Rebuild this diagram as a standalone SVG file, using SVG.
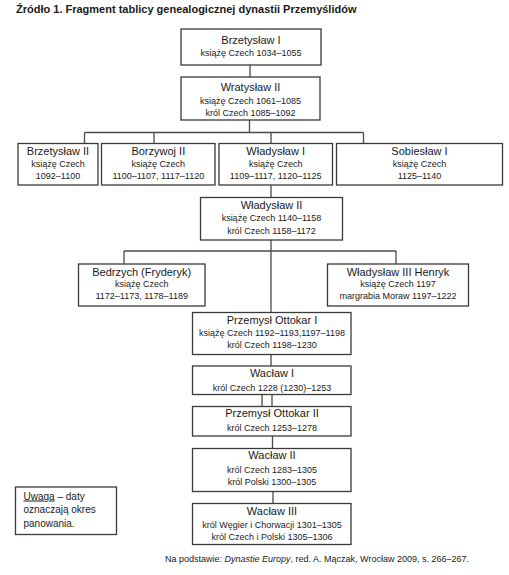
<svg xmlns="http://www.w3.org/2000/svg" width="509" height="575" viewBox="0 0 509 575">
<style>
text{font-family:"Liberation Sans",Arial,sans-serif;fill:#1a1a1a;}
.t{font-size:11px;font-weight:bold;}
.n{font-size:11px;text-anchor:middle;}
.s{font-size:9px;text-anchor:middle;}
.b{fill:#fff;stroke:#3a3a3a;stroke-width:1.3;}
.c{fill:none;stroke:#4a4a4a;stroke-width:1.3;}
.u{font-size:10px;}
.f{font-size:9px;}
</style>
<rect width="509" height="575" fill="#fff"/>
<text class="t" x="16" y="13">Źródło 1. Fragment tablicy genealogicznej dynastii Przemyślidów</text>
<g id="connectors">
<path class="c" d="M250,65V77"/>
<path class="c" d="M249.5,120V132.5M84.5,132.5H363.5M84.5,132.5V143.5M154,132.5V143.5M271,132.5V143.5M363.5,132.5V143.5"/>
<path class="c" d="M271,185V197.5"/>
<path class="c" d="M271,240V312.5M124,251H396M124,251V264M396,251V264"/>
<path class="c" d="M271,354.5V366"/>
<path class="c" d="M262,394.5V406.5M272,394.5V406.5"/>
<path class="c" d="M272.5,436V448.5"/>
<path class="c" d="M273,491.5V503.5"/>
</g>
<g id="n1"><rect class="b" x="181" y="29" width="140" height="36"/><text class="n" x="251" y="43.5">Brzetysław I</text><text class="s" x="251" y="56">książę Czech 1034–1055</text></g>
<g id="n2"><rect class="b" x="181" y="77" width="139" height="43"/><text class="n" x="250.5" y="90.5">Wratysław II</text><text class="s" x="250.5" y="104">książę Czech 1061–1085</text><text class="s" x="250.5" y="115.5">król Czech 1085–1092</text></g>
<g id="n3"><rect class="b" x="18" y="143.5" width="80" height="41.5"/><text class="n" x="58" y="155">Brzetysław II</text><text class="s" x="58" y="167">książę Czech</text><text class="s" x="58" y="179">1092–1100</text></g>
<g id="n4"><rect class="b" x="101.5" y="143.5" width="113.5" height="41.5"/><text class="n" x="158.3" y="155">Borzywoj II</text><text class="s" x="158.3" y="167">książę Czech</text><text class="s" x="158.3" y="179">1100–1107, 1117–1120</text></g>
<g id="n5"><rect class="b" x="219" y="143.5" width="113.5" height="41.5"/><text class="n" x="275.7" y="155">Władysław I</text><text class="s" x="275.7" y="167">książę Czech</text><text class="s" x="275.7" y="179">1109–1117, 1120–1125</text></g>
<g id="n6"><rect class="b" x="336.5" y="143.5" width="166" height="41.5"/><text class="n" x="419.5" y="155">Sobiesław I</text><text class="s" x="419.5" y="167">książę Czech</text><text class="s" x="419.5" y="179">1125–1140</text></g>
<g id="n7"><rect class="b" x="200.5" y="197.5" width="142" height="42.5"/><text class="n" x="271.5" y="208.5">Władysław II</text><text class="s" x="271.5" y="221">książę Czech 1140–1158</text><text class="s" x="271.5" y="233.5">król Czech 1158–1172</text></g>
<g id="n8"><rect class="b" x="78.5" y="264" width="126.5" height="42"/><text class="n" x="141.7" y="275.5">Bedrzych (Fryderyk)</text><text class="s" x="141.7" y="287">książę Czech</text><text class="s" x="141.7" y="298.5">1172–1173, 1178–1189</text></g>
<g id="n9"><rect class="b" x="327.5" y="264" width="141" height="42"/><text class="n" x="398" y="275.5">Władysław III Henryk</text><text class="s" x="398" y="287">książę Czech 1197</text><text class="s" x="398" y="298.5">margrabia Moraw 1197–1222</text></g>
<g id="n10"><rect class="b" x="192.5" y="312.5" width="158.5" height="42"/><text class="n" x="272" y="323.5">Przemysł Ottokar I</text><text class="s" x="272" y="336">książę Czech 1192–1193,1197–1198</text><text class="s" x="272" y="347.5">król Czech 1198–1230</text></g>
<g id="n11"><rect class="b" x="192.5" y="366" width="158.5" height="28.5"/><text class="n" x="272" y="377">Wacław I</text><text class="s" x="272" y="390.5">król Czech 1228 (1230)–1253</text></g>
<g id="n12"><rect class="b" x="192.5" y="406.5" width="158.5" height="29.5"/><text class="n" x="272" y="417">Przemysł Ottokar II</text><text class="s" x="272" y="430.5">król Czech 1253–1278</text></g>
<g id="n13"><rect class="b" x="192.5" y="448.5" width="158.5" height="43"/><text class="n" x="272" y="459">Wacław II</text><text class="s" x="272" y="472.5">król Czech 1283–1305</text><text class="s" x="272" y="484.5">król Polski 1300–1305</text></g>
<g id="n14"><rect class="b" x="192.5" y="503.5" width="158.5" height="41"/><text class="n" x="272" y="514.5">Wacław III</text><text class="s" x="272" y="527.5">król Węgier i Chorwacji 1301–1305</text><text class="s" x="272" y="540">król Czech i Polski 1305–1306</text></g>
<g id="note"><rect class="b" x="15.5" y="487" width="101" height="47.5"/><text class="u" x="23.5" y="499.5"><tspan text-decoration="underline">Uwaga</tspan> – daty</text><text class="u" x="23.5" y="513">oznaczają okres</text><text class="u" x="23.5" y="526.5">panowania.</text></g>
<text class="f" x="165" y="562">Na podstawie: <tspan font-style="italic">Dynastie Europy</tspan>, red. A. Mączak, Wrocław 2009, s. 266–267.</text>
</svg>
